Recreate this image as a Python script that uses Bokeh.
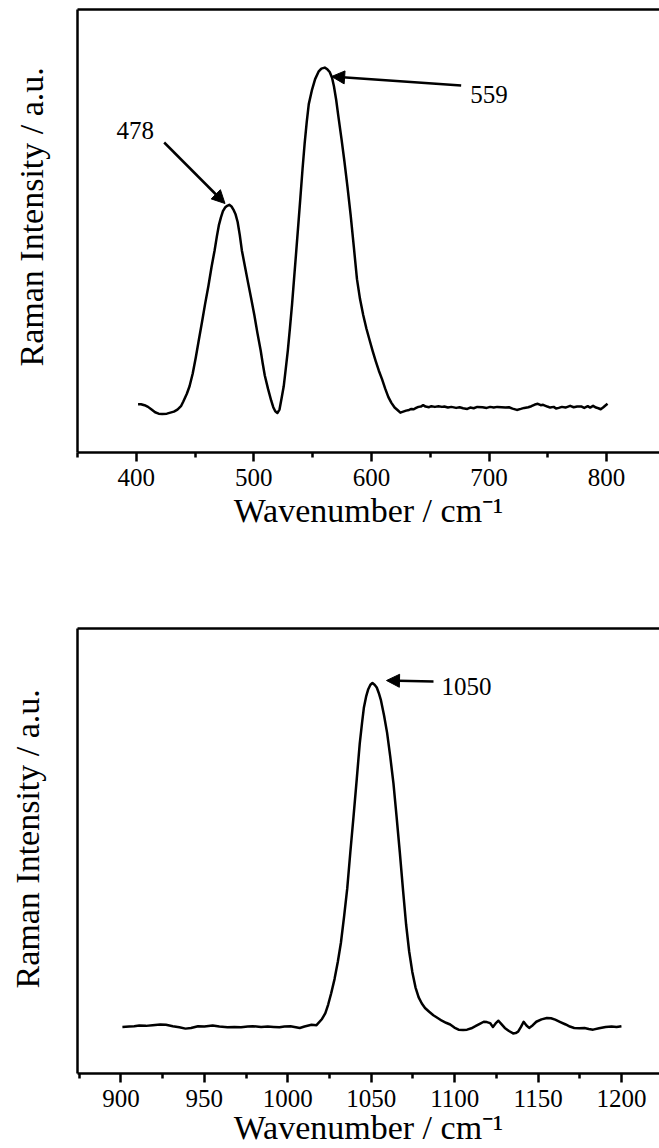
import math
from bokeh.plotting import figure
from bokeh.models import Range1d, FixedTicker, LinearAxis, Label, Arrow, NormalHead, Title
from bokeh.layouts import column
from bokeh.embed import file_html
from bokeh.resources import INLINE

FONT = "Liberation Serif"

# ---------------- data: low-wavenumber spectrum ----------------
wn_low = [401.5, 404, 407, 410, 413, 416, 419, 422, 426, 429, 432, 435, 438, 440, 443, 445.3, 448, 450.6,
          453, 455.9, 458.5, 461.3, 464, 466.6, 468.5, 470.2, 472, 473.7, 475.5, 477.3, 479.1, 481, 482.6,
          484.5, 486.2, 488, 489.8, 492.5, 495.1, 497.8, 500.4, 503, 505.8, 507.5, 509.3, 512, 514.7, 516.5,
          518.2, 520, 521.8, 523.5, 525.4, 527, 528.9, 530.7, 532.5, 534.3, 536.1, 537.9, 539.6, 541.4, 543.2,
          545, 546.7, 549.5, 552.1, 555, 557.4, 560.3, 562.5, 564.5, 566.5, 568.1, 570, 571.7, 574.5, 577.0,
          579.7, 582.3, 585, 587.7, 590.3, 593.0, 595.7, 598.4, 601, 603.7, 606.3, 609.0, 611.7, 614.4, 617,
          619.7, 622.4, 624.6, 627, 629.5, 632, 634, 636, 638, 640, 642, 644, 646, 649, 651, 654, 657, 660,
          662, 665, 668, 672, 675, 678, 681.5, 684, 687, 690, 694.5, 698, 701, 704, 707, 710.7, 714, 717, 720,
          723.7, 727, 730, 733.4, 736, 739, 741.5, 744, 746, 749.6, 752, 755, 757, 759.3, 762, 765, 769, 772,
          775, 778.8, 781, 784, 786, 788.5, 791, 793, 795, 797, 799, 800.8]
int_low = [0.004, 0.004, 0.001, -0.004, -0.012, -0.020, -0.024, -0.025, -0.024, -0.021, -0.018, -0.012, -0.002,
           0.012, 0.035, 0.057, 0.095, 0.142, 0.19, 0.247, 0.30, 0.353, 0.41, 0.459, 0.50, 0.533, 0.557, 0.575,
           0.586, 0.591, 0.594, 0.589, 0.580, 0.565, 0.543, 0.505, 0.459, 0.41, 0.363, 0.315, 0.268, 0.215,
           0.163, 0.125, 0.089, 0.050, 0.015, -0.005, -0.017, -0.022, -0.012, 0.020, 0.057, 0.105, 0.163, 0.230,
           0.300, 0.38, 0.459, 0.54, 0.617, 0.70, 0.776, 0.84, 0.892, 0.935, 0.966, 0.988, 0.997, 1.0, 0.995,
           0.987, 0.97, 0.945, 0.905, 0.860, 0.79, 0.723, 0.645, 0.564, 0.47, 0.374, 0.315, 0.268, 0.228, 0.194,
           0.162, 0.131, 0.103, 0.078, 0.05, 0.025, 0.008, -0.006, -0.014, -0.021, -0.018, -0.015, -0.013,
           -0.010, -0.011, -0.007, -0.004, -0.003, 0.001, -0.003, -0.005, -0.002, -0.004, -0.002, -0.004,
           -0.003, -0.006, -0.004, -0.007, -0.005, -0.008, -0.010, -0.006, -0.008, -0.004, -0.005, -0.007,
           -0.004, -0.006, -0.004, -0.005, -0.006, -0.005, -0.009, -0.013, -0.010, -0.007, -0.005, -0.002,
           0.003, 0.005, 0.001, 0.002, -0.003, -0.006, -0.004, -0.009, -0.007, -0.004, -0.006, -0.001, -0.005,
           -0.003, -0.003, -0.007, -0.002, -0.006, -0.001, -0.006, -0.008, -0.011, -0.006, 0.000, 0.005]

# ---------------- data: high-wavenumber spectrum ----------------
wn_high = [900.9, 905, 908, 911, 915, 919, 923.6, 927, 931.1, 935, 938.7, 942, 946.2, 950, 955, 959, 963.9, 968,
           972, 976, 979, 984, 988, 991.5, 995, 998, 1001.6, 1004, 1007.2, 1010, 1014.2, 1017.2, 1020.5, 1022.5,
           1024.2, 1026, 1028, 1030, 1031.8, 1033.7, 1035.6, 1037.5, 1039.4, 1041.3, 1043.1, 1044.5, 1045.6, 1047,
           1048.2, 1049.5, 1050.7, 1052, 1053.3, 1054.5, 1055.8, 1057.7, 1059.5, 1061.4, 1063.3, 1065.2, 1067.1,
           1069, 1070.9, 1072.7, 1074.6, 1076.5, 1078.4, 1080.3, 1082.2, 1084.7, 1087.2, 1089.8, 1092.3, 1094.8,
           1097.3, 1099.8, 1102.3, 1105, 1107.4, 1110, 1112.4, 1115, 1117.4, 1119.3, 1121.2, 1122.9, 1124.5,
           1126.2, 1128, 1130, 1132.5, 1135, 1136.5, 1138, 1139.7, 1141.3, 1143, 1144.6, 1146.8, 1148.9, 1152,
           1155.2, 1157.7, 1160.2, 1163.3, 1166.5, 1169, 1171.6, 1174.7, 1177.8, 1180.3, 1182.9, 1186.5, 1190.4,
           1194, 1197, 1199.9]
int_high = [0.000, 0.001, 0.002, 0.004, 0.003, 0.005, 0.007, 0.006, 0.002, -0.001, -0.005, -0.003, 0.002, 0.001,
            0.004, 0.001, -0.001, 0.000, -0.001, 0.001, 0.002, 0.000, 0.001, 0.000, -0.001, 0.001, 0.002, 0.000,
            -0.003, 0.001, 0.006, 0.005, 0.023, 0.040, 0.065, 0.098, 0.139, 0.19, 0.244, 0.32, 0.402, 0.51, 0.613,
            0.72, 0.824, 0.885, 0.929, 0.962, 0.982, 0.995, 1.0, 0.995, 0.987, 0.971, 0.950, 0.905, 0.855, 0.785,
            0.708, 0.61, 0.508, 0.40, 0.297, 0.22, 0.160, 0.115, 0.086, 0.068, 0.055, 0.044, 0.034, 0.026, 0.018,
            0.012, 0.007, -0.002, -0.008, -0.009, -0.008, -0.004, 0.002, 0.009, 0.015, 0.014, 0.011, 0.000, 0.010,
            0.018, 0.008, -0.003, -0.012, -0.019, -0.018, -0.014, 0.000, 0.015, 0.004, -0.003, 0.005, 0.015,
            0.022, 0.026, 0.025, 0.021, 0.014, 0.007, 0.001, -0.003, -0.004, -0.003, -0.006, -0.008, -0.004,
            0.000, 0.001, 0.000, 0.002]

# tick positions
ticks_low = [400, 500, 600, 700, 800]
minor_low = [350, 450, 550, 650, 750, 850]
ticks_high = [900, 950, 1000, 1050, 1100, 1150, 1200]
minor_high = [875, 925, 975, 1025, 1075, 1125, 1175, 1225]

# peak annotations
peaks_low = ["478", "559"]
peaks_high = ["1050"]

x_title = "Wavenumber / cm\u207b\u00b9"
y_title = "Raman Intensity / a.u."

W, H = 659, 574


def build(xr, yr, frame, majors, minors, xlab_standoff, ytitle_offset, ypad):
    l, t, b = frame
    p = figure(width=W, height=H, x_range=Range1d(*xr), y_range=Range1d(*yr),
               output_backend="svg", toolbar_location=None,
               min_border_left=l, min_border_right=0, min_border_top=t, min_border_bottom=H - b,
               background_fill_color="white", border_fill_color="white")
    p.outline_line_color = None
    p.xgrid.visible = False
    p.ygrid.visible = False
    xa = p.xaxis[0]
    xa.ticker = FixedTicker(ticks=majors, minor_ticks=minors)
    xa.axis_line_width = 2.5
    xa.axis_line_color = "black"
    xa.major_tick_line_width = 2.5
    xa.minor_tick_line_width = 2.5
    xa.major_tick_line_color = "black"
    xa.minor_tick_line_color = "black"
    xa.major_tick_in = 0
    xa.major_tick_out = 9
    xa.minor_tick_in = 0
    xa.minor_tick_out = 5
    xa.major_label_text_font = FONT
    xa.major_label_text_font_size = "25px"
    xa.major_label_text_color = "black"
    xa.major_label_standoff = 7
    xa.axis_label = x_title
    xa.axis_label_text_font = FONT
    xa.axis_label_text_font_size = "34px"
    xa.axis_label_text_font_style = "normal"
    xa.axis_label_text_color = "black"
    xa.axis_label_standoff = xlab_standoff
    ya = p.yaxis[0]
    ya.ticker = FixedTicker(ticks=[])
    ya.axis_line_width = 2.5
    ya.axis_line_color = "black"
    ya.major_tick_out = 0
    ya.major_tick_in = 0
    ya.minor_tick_out = 0
    ya.minor_tick_in = 0
    ya.major_label_text_font_size = "0px"
    # blank spacer label keeps the rotated title clear of the frame
    ya.axis_label = " "
    ya.axis_label_text_font_size = "1px"
    ya.axis_label_standoff = ypad
    top = LinearAxis(ticker=FixedTicker(ticks=[]), axis_line_width=2.5, axis_line_color="black",
                     major_tick_out=0, major_tick_in=0, minor_tick_out=0, minor_tick_in=0,
                     major_label_text_font_size="0px")
    p.add_layout(top, "above")
    p.add_layout(Title(text=y_title, align="left", offset=ytitle_offset, standoff=0,
                       text_font=FONT, text_font_size="34px", text_font_style="normal",
                       text_color="black"), "left")
    return p


def conv(xr, yr, frame):
    l, t, b = frame

    def f(px, py):
        x = xr[0] + (px - l) / (W - l) * (xr[1] - xr[0])
        y = yr[1] - (py - t) / (b - t) * (yr[1] - yr[0])
        return x, y
    return f


def add_arrow(p, f, tail, head):
    x0, y0 = f(*tail)
    x1, y1 = f(*head)
    p.add_layout(Arrow(end=NormalHead(size=13, fill_color="black", line_color="black", line_width=1),
                       x_start=x0, y_start=y0, x_end=x1, y_end=y1,
                       line_width=2.5, line_color="black"))


def add_text(p, f, pos, txt):
    x, y = f(*pos)
    p.add_layout(Label(x=x, y=y, text=txt, text_align="center", text_baseline="alphabetic",
                       text_font=FONT, text_font_size="25px", text_color="black"))


# ---------------- top panel ----------------
xr1, yr1, fr1 = (350, 845), (-0.139, 1.172), (75, 9, 452)
p1 = build(xr1, yr1, fr1, ticks_low, minor_low, 3, 86, 24)
p1.line(wn_low, int_low, line_width=2.5, line_color="black", line_join="round")
f1 = conv(xr1, yr1, fr1)
add_text(p1, f1, (133, 130), peaks_low[0])
add_arrow(p1, f1, (162, 142), (223, 203))
add_text(p1, f1, (488, 94), peaks_low[1])
add_arrow(p1, f1, (460, 85), (330, 76))

# ---------------- bottom panel ----------------
xr2, yr2, fr2 = (874, 1222.7), (-0.1355, 1.1585), (77, 54, 499)
p2 = build(xr2, yr2, fr2, ticks_high, minor_high, -1, 85, 28)
p2.line(wn_high, int_high, line_width=2.5, line_color="black", line_join="round")
f2 = conv(xr2, yr2, fr2)
add_text(p2, f2, (466, 112), peaks_high[0])
add_arrow(p2, f2, (433, 107), (386, 106))

layout = column(p1, p2, spacing=0)
open("out.html", "w").write(file_html(layout, INLINE))
